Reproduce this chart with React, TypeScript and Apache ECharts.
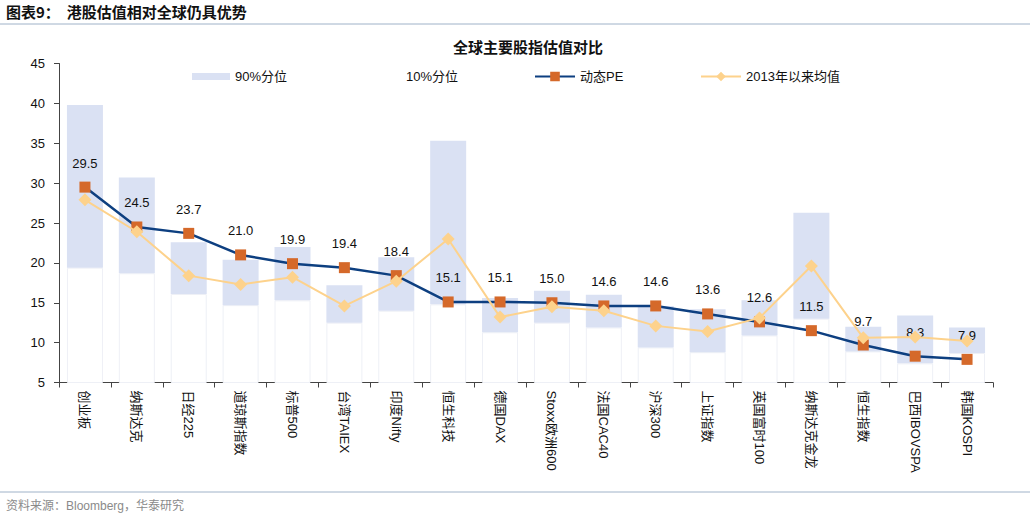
import React, { useEffect, useRef } from "react";
import * as echarts from "echarts";

const categories = [
  "创业板", "纳斯达克", "日经225", "道琼斯指数", "标普500", "台湾TAIEX", "印度Nifty", "恒生科技", "德国DAX",
  "Stoxx欧洲600", "法国CAC40", "沪深300", "上证指数", "英国富时100", "纳斯达克金龙", "恒生指数", "巴西IBOVSPA", "韩国KOSPI",
];
const p90 = [39.8, 30.7, 22.6, 20.4, 22.0, 17.2, 20.7, 35.3, 15.6, 16.5, 16.0, 14.6, 14.2, 15.3, 26.3, 12.0, 13.4, 11.9];
const p10 = [19.4, 18.7, 16.1, 14.7, 15.3, 12.5, 14.0, 14.8, 11.3, 12.5, 11.9, 9.4, 8.8, 10.9, 13.0, 8.9, 7.4, 8.7];
const pe = [29.5, 24.5, 23.7, 21.0, 19.9, 19.4, 18.4, 15.1, 15.1, 15.0, 14.6, 14.6, 13.6, 12.6, 11.5, 9.7, 8.3, 7.9];
const mean2013 = [27.9, 23.9, 18.4, 17.3, 18.2, 14.6, 17.7, 23.0, 13.2, 14.5, 14.0, 12.1, 11.4, 13.1, 19.6, 10.6, 10.7, 10.2];
const yTicks = { min: 5, max: 45, interval: 5 };

const FONT = "'Liberation Sans', 'Noto Sans CJK SC', sans-serif";
const BLUE_BAR = "#dae1f3";
const NAVY = "#0d3f80";
const ORANGE = "#d5692a";
const LIGHT_ORANGE = "#fdd28c";

export default function App() {
  const ref = useRef<HTMLDivElement>(null);
  useEffect(() => {
    const chart = echarts.init(ref.current!, null, { renderer: "svg" });
    const legendBase = {
      top: 65,
      itemWidth: 38,
      itemHeight: 7,
      itemGap: 0,
      textStyle: { fontFamily: FONT, fontSize: 13, color: "#111" },
      selectedMode: false as const,
    };
    chart.setOption({
      animation: false,
      backgroundColor: "#fff",
      grid: { left: 59, right: 37, top: 63.5, bottom: 136.5, containLabel: false },
      legend: [
        { ...legendBase, left: 187, data: [{ name: "90%分位", icon: "rect" }] },
        {
          ...legendBase,
          left: 358,
          data: [{ name: "10%分位", icon: "rect", itemStyle: { color: "#fff", borderWidth: 0, borderColor: "#fff" } }],
        },
        { ...legendBase, left: 529, itemWidth: 40, itemHeight: 12, data: ["动态PE"] },
        { ...legendBase, left: 695, itemWidth: 40, itemHeight: 12, data: ["2013年以来均值"] },
      ],
      xAxis: {
        type: "category",
        data: categories,
        axisLine: { lineStyle: { color: "#444", width: 1 } },
        axisTick: { show: true, length: 5, lineStyle: { color: "#444" } },
        axisLabel: {
          rotate: -90,
          interval: 0,
          margin: 8,
          fontFamily: FONT,
          fontSize: 13,
          color: "#111",
        },
      },
      yAxis: {
        type: "value",
        min: yTicks.min,
        max: yTicks.max,
        interval: yTicks.interval,
        axisLine: { show: true, lineStyle: { color: "#444", width: 1 } },
        axisTick: { show: true, length: 5, lineStyle: { color: "#444" } },
        splitLine: { show: false },
        axisLabel: { margin: 14, fontFamily: FONT, fontSize: 13, color: "#111" },
      },
      series: [
        {
          name: "10%分位",
          type: "bar",
          stack: "pct",
          barWidth: 36,
          data: p10,
          itemStyle: { color: "#ffffff", borderColor: "#eef0f6", borderWidth: 1 },
          z: 1,
        },
        {
          name: "90%分位",
          type: "bar",
          stack: "pct",
          barWidth: 36,
          data: p90.map((v, i) => +(v - p10[i]).toFixed(2)),
          itemStyle: { color: BLUE_BAR },
          z: 1,
        },
        {
          name: "动态PE",
          type: "line",
          data: pe,
          symbol: "rect",
          symbolSize: 11,
          lineStyle: { color: NAVY, width: 2.5 },
          itemStyle: { color: ORANGE },
          label: {
            show: true,
            position: "top",
            distance: 12,
            formatter: (p: any) => Number(p.value).toFixed(1),
            fontFamily: FONT,
            fontSize: 13,
            color: "#111",
          },
          z: 3,
        },
        {
          name: "2013年以来均值",
          type: "line",
          data: mean2013,
          symbol: "diamond",
          symbolSize: 13,
          lineStyle: { color: LIGHT_ORANGE, width: 2 },
          itemStyle: { color: LIGHT_ORANGE },
          z: 4,
        },
      ],
      graphic: [
        {
          type: "text",
          left: 6,
          top: 4,
          style: {
            text: "图表9：  港股估值相对全球仍具优势",
            font: "bold 15px 'Noto Sans CJK SC', sans-serif",
            fill: "#111",
          },
        },
        {
          type: "line",
          shape: { x1: 0, y1: 24, x2: 1030, y2: 24 },
          style: { stroke: "#9fb2c8", lineWidth: 1 },
        },
        {
          type: "text",
          x: 528,
          y: 46,
          style: {
            text: "全球主要股指估值对比",
            font: "bold 15px 'Noto Sans CJK SC', sans-serif",
            fill: "#111",
            textAlign: "center",
            textVerticalAlign: "middle",
          },
        },
        {
          type: "line",
          shape: { x1: 0, y1: 492, x2: 1030, y2: 492 },
          style: { stroke: "#9fb2c8", lineWidth: 1 },
        },
        {
          type: "text",
          x: 6,
          y: 506,
          style: {
            text: "资料来源：Bloomberg，华泰研究",
            font: "12px 'Liberation Sans', 'Noto Sans CJK SC', sans-serif",
            fill: "#8a8a8a",
            textVerticalAlign: "middle",
          },
        },
      ],
    });
    return () => chart.dispose();
  }, []);
  return (
    <div
      ref={ref}
      style={{ position: "fixed", left: 0, top: 0, width: 1030, height: 519 }}
    />
  );
}
